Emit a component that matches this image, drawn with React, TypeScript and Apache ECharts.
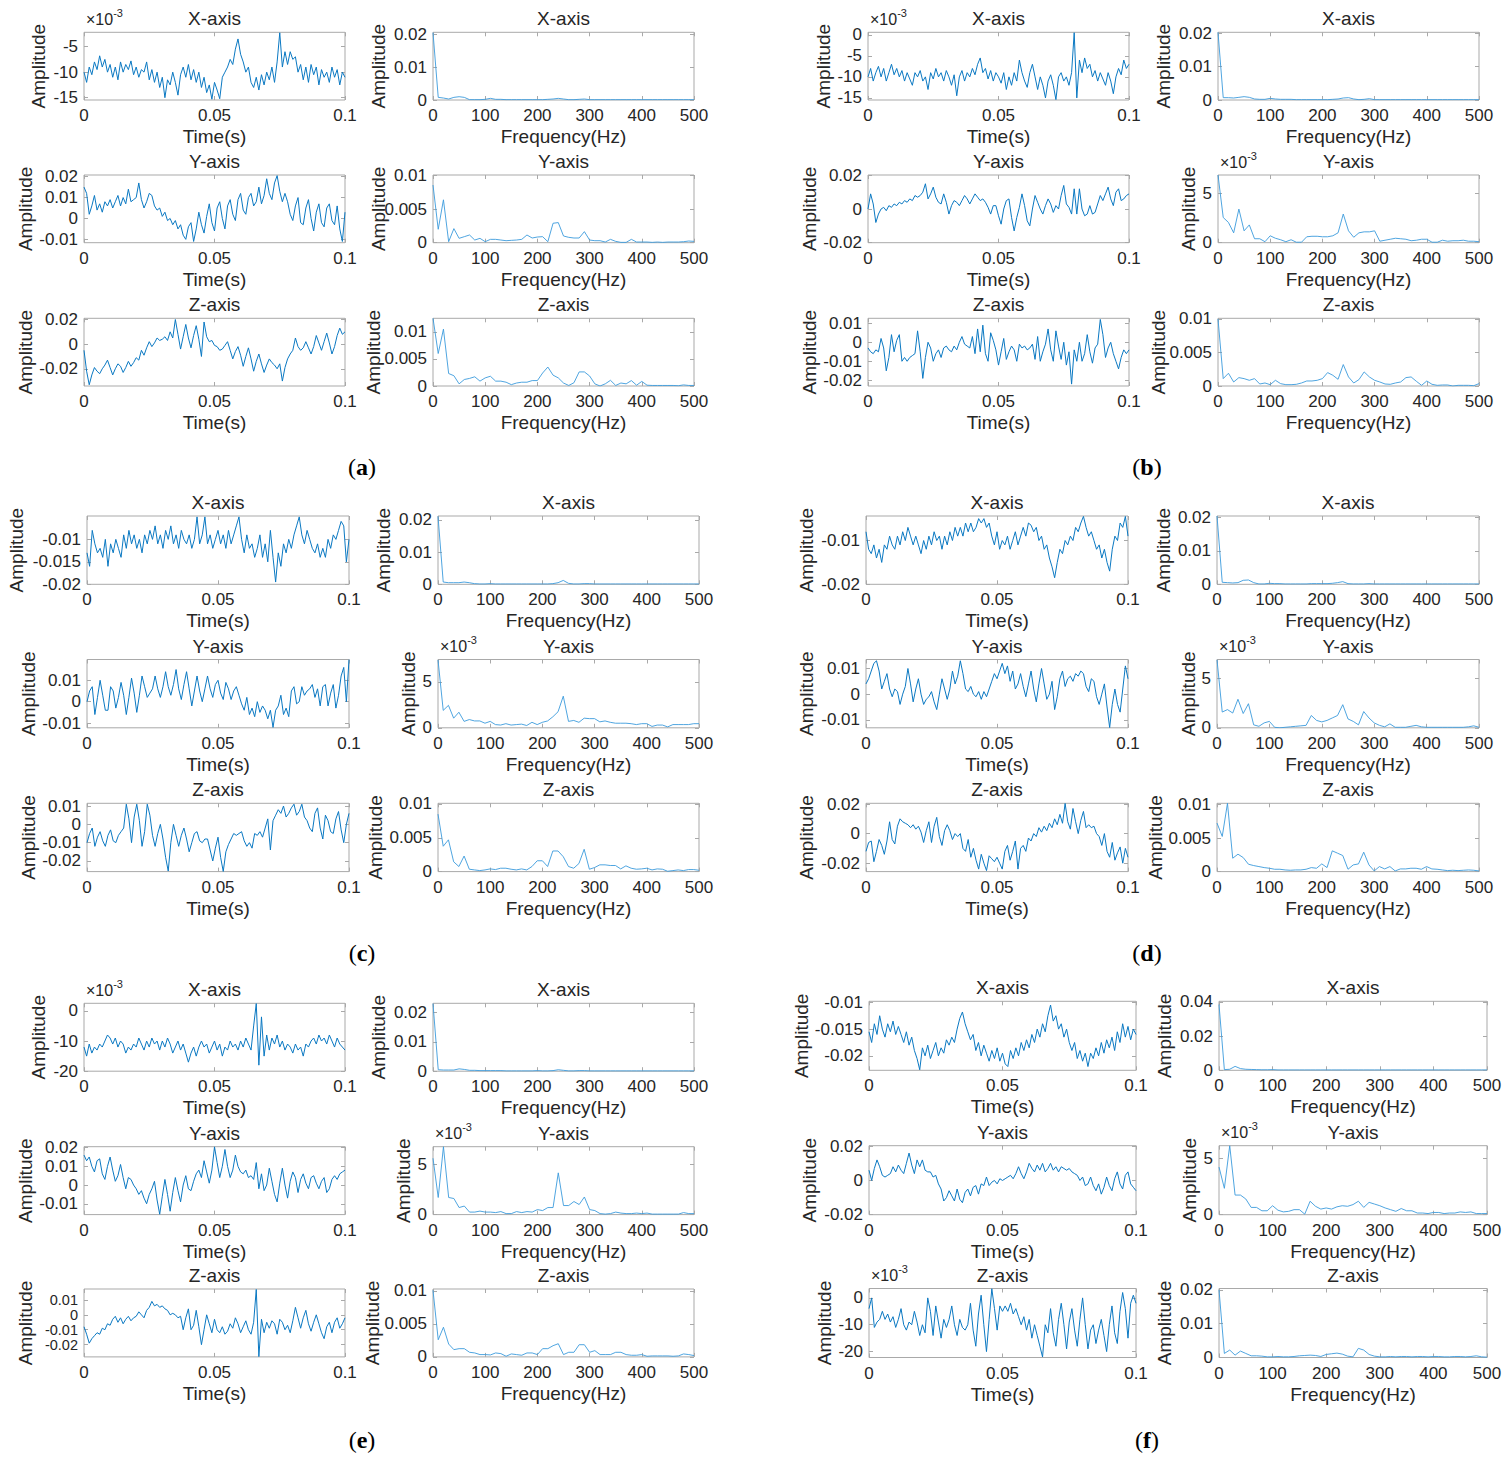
import React, { useEffect, useRef } from 'react';
import * as echarts from 'echarts';

// ---------------- data (all amplitudes in units of 1e-3) ----------------
// sampling grids
const TIME_STEP_S = 0.001; // one sample per ms, 0 .. 0.1 s
const FREQ_STEP_HZ = 10; // one bin per 10 Hz, 0 .. 500 Hz
const MILLI = 0.001;

const timeTicks = [0, 0.05, 0.1];
const freqTicks = [0, 100, 200, 300, 400, 500];
const rowTitles = ['X-axis', 'Y-axis', 'Z-axis'];
const panelLetters = ['a', 'b', 'c', 'd', 'e', 'f'];

// (a)
const aTimeX = [
  -10, -12, -9, -10.5, -8, -9.5, -6.8, -9, -7.5, -10,
  -8.5, -11, -9, -11.5, -8, -10, -8.5, -9.5, -7.8, -10.5,
  -9, -11, -9.5, -10, -8, -11.5, -9.5, -12, -10, -13,
  -11, -15, -11.5, -12.5, -10, -12, -14.5, -10.5, -9, -11,
  -8.5, -11.5, -9.5, -12, -10, -13, -11, -14, -12.5, -15.3,
  -12, -13.5, -15.2, -11, -10, -9, -7.5, -8.5, -5.5, -3.5,
  -6.5, -8, -10, -9, -12, -13, -11, -13.5, -10.5, -12.5,
  -10, -11.5, -9, -12, -8, -2.3, -9, -6, -8.5, -6,
  -7.5, -7, -10, -8.5, -11.5, -9, -12, -8.5, -10.5, -9,
  -12.5, -9.5, -11, -10, -12, -9, -11, -9.5, -12.5, -10,
  -11,
];
const aTimeY = [
  15, 12, 2, 6, 11, 4, 7, 3, 8, 6,
  9, 5, 8, 11, 6, 10, 7, 14, 8, 9,
  10, 17, 9, 5, 8, 12, 11, 6, 4, 5,
  1, 3, -1, 0, -3, -1, -5, -3, -8, -10,
  -4, -2, -11, -5, 3, -3, -7, 1, 7, -2,
  -6, 5, 8, 0, -5, 6, 9, 2, -1, 9,
  12, 4, 2, 10, 12, 6, 8, 15, 7, 11,
  19, 12, 9, 17, 20.5, 13, 8, 12, 8, 2,
  -1, 6, 10, -2, -3, 5, 9, 0, -6, 3,
  7, -2, -4, 5, 7, -1, -3, 6, -5, -11,
  3,
];
const aTimeZ = [
  -5, -22, -33, -25, -19, -22, -24, -20, -17, -13,
  -19, -25, -20, -16, -18, -23, -19, -14, -18, -15,
  -11, -13, -5, -9, -3, 2, -2, 1, 5, 3,
  4, 6, 3, 10, 5, 20, 8, -4, 6, 16,
  5, -3, 7, 15, 4, -10, 18, 6, 2, 3,
  -1, -2, -5, -4, -1, 2, -5, -12, -6, -2,
  -9, -18, -10, -3, -12, -22, -14, -8, -16, -23,
  -17, -12, -15, -17, -20, -16, -30, -19, -12, -8,
  -5, 5, -2, -5, -3, 2, -3, -8, -2, 7,
  1, -5, 2, 9, 1, -8, -2, 7, 13, 8,
  10,
];
const aFreqX = [
  20.5, 0.8, 0.6, 0.3, 0.8, 1.0, 0.8, 0.1, 0.1, 0.1,
  0.2, 0.5, 0.2, 0.2, 0.1, 0.1, 0.1, 0.1, 0.1, 0.1,
  0.1, 0.1, 0.2, 0.3, 0.5, 0.3, 0.1, 0.1, 0.2, 0.3,
  0.1, 0.1, 0.1, 0.1, 0.1, 0.1, 0.1, 0.1, 0.1, 0.1,
  0.1, 0.1, 0.1, 0.1, 0.1, 0.1, 0.1, 0.1, 0.1, 0.1,
  0.1,
];
const aFreqY = [
  8.6, 2.0, 6.4, 0.15, 2.1, 0.65, 0.9, 1.15, 0.4, 0.65,
  0.15, 0.5, 0.5, 0.4, 0.3, 0.35, 0.4, 0.5, 1.15, 0.7,
  0.85, 0.9, 0.15, 2.9, 3.0, 1.0, 0.8, 0.7, 0.7, 1.65,
  0.4, 0.3, 0.3, 0.1, 0.5, 0.2, 0.05, 0.05, 0.5, 0.1,
  0.1, 0.1, 0.05, 0.1, 0.05, 0.1, 0.1, 0.1, 0.15, 0.25,
  0.2,
];
const aFreqZ = [
  12.5, 6.0, 10.5, 2.3, 1.9, 0.4, 1.2, 1.4, 1.7, 0.9,
  1.5, 1.8, 0.9, 0.9, 0.7, 0.25, 0.55, 0.7, 0.7, 1.0,
  1.0, 2.4, 3.5, 2.0, 1.5, 0.55, 0.1, 0.6, 2.6, 2.6,
  1.85, 0.4, 0, 0.4, 1.05, 0.1, 0.55, 0.4, 1.0, 0.15,
  0.85, 0.15, 0.1, 0.1, 0.1, 0.1, 0.1, 0.05, 0.2, 0.1,
  0.1,
];

// (b)
const bTimeX = [
  -10, -8, -11, -9, -7.5, -10, -8, -11, -9, -7,
  -9.5, -8, -10, -8.5, -11, -9, -10.5, -12, -9, -10,
  -8.5, -11, -10, -13, -9, -10.5, -8, -10, -9, -11,
  -8.5, -10, -12, -9.5, -14.5, -10, -8.5, -11, -9, -10,
  -8, -9.5, -7, -5.5, -9, -8, -10.5, -8.5, -11, -9,
  -10, -11.5, -9, -13, -10, -12, -9, -11, -6, -9,
  -11, -12.5, -9, -7, -10, -13, -10, -12, -15, -11,
  -9.5, -12, -15.4, -10, -9, -11, -10, -12, -9, 0.5,
  -15, -6, -9, -5.5, -8, -7, -10, -8.5, -11, -9,
  -10.5, -12, -9, -11, -14, -10, -8, -9.5, -6, -8,
  -7,
];
const bTimeY = [
  0, 9, 3, -8, -3, 0, 1, -1, 2, 1,
  3, 2, 4, 3, 5, 4, 6, 5, 8, 7,
  8, 10, 15, 6, 9, 13, 7, 4, 3, 9,
  4, -3, 2, 5, 4, 2, 5, 8, 6, 3,
  6, 9, 7, 5, 6, 4, 1, -3, 2, 2,
  -4, -9, 0, 5, 6, -5, -13, -5, 1, 9,
  2, -7, -10, 0, 8, 4, 0, -3, 2, 6,
  3, -2, 2, 0, 8, 14, 3, 1, -3, 12,
  -3, 12, 0, -4, -3, 2, -3, -2, 3, 8,
  5, 9, 13, 6, 2, 10, 12, 5, 6, 8,
  9,
];
const bTimeZ = [
  -3, -5, -6, -4, -5, 2, -3, -15, -8, 4,
  -5, 1, 4, -10, -8, -10, -8, -7, -6, 6,
  -5, -19, -8, 0, -3, -10, -6, -4, -8, -3,
  -2, -4, -5, -2, -4, 0, 3, -1, -2, -3,
  3, -6, 7, -5, 9, -6, -10, 5, 1, -4,
  -12, -5, 2, -9, -5, -2, -4, -10, -1, -3,
  -2, -4, -3, -1, -9, 3, -10, -5, -1, 7,
  -4, -10, 6, -2, -9, 0, -12, -5, -22, -4,
  -10, 0, -10, -6, 4, -5, -11, -3, -1, 12,
  4, -8, -3, 0, -6, -10, -14, -8, -4, -6,
  -4,
];
const bFreqX = [
  20.3, 0.7, 0.7, 0.6, 0.8, 1.0, 0.8, 0.3, 0.2, 0.2,
  0.5, 0.3, 0.2, 0.2, 0.2, 0.1, 0.1, 0.1, 0.1, 0.1,
  0.1, 0.1, 0.2, 0.3, 0.6, 0.7, 0.3, 0.1, 0.2, 0.4,
  0.1, 0.1, 0.1, 0.1, 0.1, 0.1, 0.1, 0.1, 0.1, 0.1,
  0.1, 0.1, 0.1, 0.1, 0.1, 0.1, 0.1, 0.1, 0.1, 0.1,
  0.1,
];
const bFreqY = [
  6.85, 2.55, 2.05, 1.0, 3.4, 1.2, 1.8, 0.4, 0.4, 0.1,
  0.7, 0.45, 0.3, 0.1, 0.3, 0.05, 0.05, 0.6, 0.65, 0.65,
  0.6, 0.6, 0.7, 1.0, 2.9, 1.2, 0.55, 1.0, 1.1, 1.1,
  1.2, 0.15, 0.25, 0.35, 0.45, 0.4, 0.35, 0.2, 0.25, 0.35,
  0.35, 0.05, 0.05, 0.25, 0.15, 0.2, 0.2, 0.25, 0.15, 0.15,
  0.1,
];
const bFreqZ = [
  10, 1.1, 1.9, 0.6, 1.25, 1.1, 0.85, 1.1, 0.3, 0.45,
  0.2, 0.85, 0.35, 0.2, 0.2, 0.25, 0.45, 0.75, 0.75, 0.85,
  1.1, 2.0, 1.6, 1.0, 3.2, 1.35, 0.45, 0.95, 2.1, 1.35,
  0.85, 0.6, 0.3, 0.25, 0.45, 0.6, 1.25, 1.35, 0.7, 0.1,
  0.75, 0.25, 0.1, 0.15, 0.15, 0, 0.1, 0.1, 0.1, 0.05,
  0.35,
];

// (c)
const cTimeX = [
  -13, -16, -8, -11, -13, -12, -14, -10, -16, -11,
  -13, -10, -12, -14, -9, -12, -8, -11, -9, -12,
  -10, -13, -9, -11, -8, -10, -7, -11, -9, -12,
  -8, -10, -7, -11, -9, -12, -8, -10, -11, -9,
  -12, -10, -5, -11, -9, -5, -11, -9, -12, -10,
  -8, -11, -9, -12, -8, -11, -9, -7, -5, -10,
  -13, -9, -12, -11, -14, -12, -9, -14, -11, -15,
  -8, -14, -19.5, -13, -16, -11, -13, -10, -12, -9,
  -7, -5, -9, -11, -8, -10, -12, -13, -11, -14,
  -12, -14, -10, -12, -9, -10, -8, -6, -7, -15,
  -10,
];
const cTimeY = [
  0, 5, 7, -6, 2, 10, 3, -4, -4, 7,
  5, -3, 2, 9, 3, -6, 2, 11, 4, -5,
  3, 12, 7, 2, 4, 6, 12, 6, 2, 7,
  14, 7, 3, 8, 15, 6, 1, 8, 14, 6,
  -2, 5, 12, 5, 0, 6, 12, 6, 2, 8,
  10, 4, 1, 9, 6, 1, 5, 7, 3, -1,
  -4, 2, -6, -3, -7, 0, -5, -2, -4, -8,
  -4, -12, -4, -2, 3, -6, -3, -7, 5, 7,
  -1, 0, 7, 3, 5, 6, 8, 2, 6, -2,
  7, 8, -2, 4, 8, -3, 3, 12, 16, 0,
  19.6,
];
const cTimeZ = [
  -10, -5, -2, -12, -7, -4, -9, -12, -6, -3,
  -9, -10, -6, -4, -2, 11, 3, -10, 4, 11,
  2, -12, -4, 11, 5, -6, -12, -5, 0, -8,
  -18, -25.5, -10, 0, -6, -12, -6, -2, -8, -15,
  -10, -5, -4, -9, -10, -8, -8, -14, -20, -13,
  -7, -18, -25.7, -15, -11, -8, -5, -6, -5, -4,
  -9, -12, -10, -13, -5, -6, -4, -7, -2, 3,
  -14, 2, 5, 8, 6, 10, 4, 6, 9, 11,
  5, 7, 11, 4, 2, -2, -4, 6, 9, -2,
  -8, 5, 2, -4, -5, 3, 7, -3, -10, 0,
  6,
];
const cFreqX = [
  21.1, 0.7, 0.5, 0.5, 0.5, 0.7, 0.5, 0.2, 0.1, 0.1,
  0.2, 0.1, 0.1, 0.1, 0.1, 0.1, 0.1, 0.1, 0.1, 0.1,
  0.1, 0.1, 0.2, 0.5, 1.2, 0.3, 0.1, 0.1, 0.2, 0.2,
  0.1, 0.1, 0.1, 0.1, 0.1, 0.1, 0.1, 0.1, 0.1, 0.1,
  0.1, 0.1, 0.1, 0.1, 0.1, 0.1, 0.1, 0.1, 0.1, 0.1,
  0.1,
];
const cFreqY = [
  7.4, 1.9, 2.45, 1.05, 1.7, 0.7, 0.9, 0.75, 0.75, 0.5,
  0.7, 0.35, 0.3, 0.45, 0.3, 0.35, 0.4, 0.25, 0.6, 0.35,
  0.6, 0.75, 1.2, 1.75, 3.45, 0.7, 0.8, 0.6, 1.05, 1.0,
  1.0, 0.65, 0.75, 0.6, 0.5, 0.5, 0.5, 0.45, 0.35, 0.45,
  0.45, 0.15, 0.3, 0.3, 0.1, 0.35, 0.35, 0.35, 0.35, 0.45,
  0.45,
];
const cFreqZ = [
  8.5, 3.75, 4.7, 1.45, 0.75, 2.3, 0.35, 0.25, 0.15, 0.25,
  0.4, 0.3, 0.5, 0.5, 0.35, 0.25, 0.4, 0.25, 0.75, 1.6,
  1.6, 0.75, 3.05, 3.05, 2.2, 0.75, 0.5, 1.2, 3.3, 0.35,
  0.6, 1.0, 1.0, 0.9, 0.9, 0.4, 0.85, 0.5, 0.35, 0.4,
  0.5, 0.25, 0.4, 0.35, 0.05, 0.15, 0.25, 0.15, 0.3, 0.3,
  0.2,
];

// (d)
const dTimeX = [
  -8, -12, -13, -11, -14, -12, -15, -11, -12, -9,
  -11, -12, -9, -11, -8, -10, -7, -9, -11, -9,
  -11, -13, -10, -12, -9, -11, -8, -10, -9, -12,
  -9, -11, -8, -10, -7, -9, -7, -9, -6, -8,
  -6, -8, -7, -5, -6, -5, -7, -6, -9, -11,
  -8, -12, -10, -11, -9, -12, -10, -8, -11, -9,
  -7, -9, -6, -6.5, -8, -7, -10, -9, -12, -11,
  -14, -16, -18.5, -15, -12, -13, -10, -11, -9, -10,
  -7, -8, -6, -4.5, -7, -9, -8, -10, -12, -11,
  -14, -12, -15, -17, -12, -9, -10, -6, -7, -4.5,
  -9,
];
const dTimeY = [
  4, 6, 9, 12, 13, 9, 2, 5, 8, 2,
  -1, 2, 1, -4, 0, 3, 10, 4, -3, 2,
  6, 0, -4, -2, -1, 1, -3, -6, 0, 6,
  2, -2, 2, 9, 4, 7, 13, 8, 2, 1,
  3, 0, -1, 1, -2, 1, -1, 2, 5, 8,
  6, 9, 12, 8, 11, 5, 9, 2, 4, 8,
  3, -1, 4, 9, 2, -3, 4, 10, 4, -2,
  0, 5, -6, -1, 6, 9, 3, 6, 7, 5,
  8, 7, 9, 8, 3, 1, 6, 5, -1, -4,
  0, 4, -5, -13, -4, 2, -4, -7, 2, 11,
  6,
];
const dTimeZ = [
  -12, -6, -5, -19, -12, -4, -8, -14, -5, 8,
  -4, -7, 5, 10, 8, 7, 6, 4, 6, 3,
  5, 1, -6, 2, 8, -6, 5, 11, -2, -8,
  2, 6, 2, -4, 0, -2, 0, -10, -12, -4,
  -16, -10, -18, -24, -14, -20, -25, -15, -17, -19,
  -16, -20, -24, -12, -8, -18, -12, -5, -24, -10,
  -8, -12, -3, -5, 0, -2, 4, 1, 5, 2,
  7, 4, 10, 6, 13, 7, 20.4, 8, 3, 17,
  8, 0, 9, 15, 4, 6, 4, 5, 0, -2,
  -8, 0, -12, -16, -6, -18, -13, -9, -20, -10,
  -16,
];
const dFreqX = [
  20.5, 0.6, 0.5, 0.4, 0.5, 1.2, 1.3, 0.5, 0.1, 0.1,
  0.3, 0.2, 0.2, 0.1, 0.1, 0.1, 0.1, 0.1, 0.2, 0.2,
  0.2, 0.2, 0.3, 0.5, 0.8, 0.2, 0.1, 0.1, 0.1, 0.2,
  0.1, 0.1, 0.1, 0.1, 0.1, 0.1, 0.1, 0.1, 0.1, 0.1,
  0.1, 0.1, 0.1, 0.1, 0.1, 0.1, 0.1, 0.1, 0.1, 0.1,
  0.1,
];
const dFreqY = [
  6.9, 1.6, 1.85, 1.5, 2.9, 1.45, 2.45, 0.3, 0.15, 0.5,
  0.65, 0.05, 0, 0.05, 0.1, 0.15, 0.2, 0.25, 1.25, 0.75,
  0.6, 0.75, 1.0, 1.25, 2.35, 0.9, 0.65, 0.3, 1.65, 1.0,
  0.5, 0.25, 0.1, 0.4, 0.05, 0.05, 0.05, 0.15, 0.25, 0.1,
  0.05, 0.05, 0.05, 0.05, 0.05, 0.05, 0.05, 0.05, 0.1, 0.2,
  0.05,
];
const dFreqZ = [
  7.25, 5.25, 10.2, 2.0, 2.6, 2.1, 1.1, 0.9, 0.75, 0.6,
  0.5, 0.35, 0.35, 0.25, 0.2, 0.25, 0.25, 0.35, 0.6, 0.5,
  1.15, 0.6, 3.1, 2.75, 2.4, 0.35, 1.0, 1.15, 2.9, 1.0,
  0.1, 0.75, 0.4, 0.75, 0.1, 0.4, 0.4, 0.5, 0.5, 0.35,
  0.75, 0.4, 0.35, 0.25, 0.15, 0.2, 0.15, 0.2, 0.25, 0.2,
  0.1,
];

// (e)
const eTimeX = [
  -12, -15, -11, -14, -12, -13, -11, -12, -10, -8,
  -9, -11, -9, -12, -10, -11, -14, -12, -13, -11,
  -12, -9, -11, -13, -10, -12, -9, -11, -10, -13,
  -10, -12, -9, -11, -14, -12, -10, -13, -11, -14,
  -17, -14, -12, -15, -12, -10, -12, -11, -14, -12,
  -10, -13, -11, -15, -12, -13, -10, -12, -11, -13,
  -10, -12, -9, -11, -13, -5, 2.4, -18, -2, -15,
  -8, -13, -9, -11, -8, -12, -10, -13, -11, -12,
  -14, -11, -13, -12, -15, -11, -12, -10, -9, -11,
  -8, -10, -9, -11, -8, -10, -12, -9, -11, -12,
  -13,
];
const eTimeY = [
  16, 13, 15, 10, 7, 13, 14, 6, 3, 10,
  15, 8, 2, 5, 11, 4, -2, 4, 3, 0,
  -2, -5, -3, -7, -10, -5, -2, 2, -8, -15.6,
  -6, 3, -5, -14, -4, 4, -3, -9, 0, 5,
  -2, -3, 2, 6, 8, 4, 13, 7, 1, 8,
  20.4, 12, 4, 10, 19, 10, 4, 8, 16, 10,
  7, 6, 8, 4, 5, 3, 12, -2, 6, -3,
  0, 9, 2, -5, -9, 1, 9, 0, -7, 2,
  7, 4, -4, 3, 6, 1, -2, 4, 5, 1,
  -2, 2, 4, -4, -2, 3, 5, 3, 6, 7,
  8,
];
const eTimeZ = [
  -8, -13, -19, -16, -14, -12, -13, -9, -10, -6,
  -7, -3, -1, -5, -2, -6, -3, -1, -4, -2,
  -1, 2, 0, -2, 3, 5, 9, 6, 7, 5,
  6, 4, 3, 0, 1, 0, -2, -1, -10, -2,
  4, -10, -7, 3, -8, -20, -10, 0, -6, -12,
  -3, -10, -12, -8, -13, -11, -6, -9, -2, -6,
  -12, -8, -4, -10, -13, -5, 17, -28, -3, -12,
  -5, -9, -4, -6, -13, -3, -5, -10, -7, -12,
  -4, 5, -2, -9, -2, 3, -6, -11, -5, 0,
  -6, -12, -16, -8, -5, -12, -5, -2, -9, -6,
  -2,
];
const eFreqX = [
  23, 0.5, 0.4, 0.4, 0.4, 0.8, 0.6, 0.3, 0.3, 0.2,
  0.2, 0.2, 0.2, 0.2, 0.1, 0.1, 0.1, 0.1, 0.1, 0.1,
  0.2, 0.1, 0.1, 0.2, 0.5, 0.3, 0.1, 0.1, 0.2, 0.2,
  0.1, 0.1, 0.1, 0.1, 0.1, 0.1, 0.1, 0.1, 0.1, 0.1,
  0.1, 0.1, 0.1, 0.1, 0.1, 0.1, 0.1, 0.1, 0.1, 0.1,
  0.1,
];
const eFreqY = [
  5.6, 1.7, 6.75, 1.7, 1.6, 0.7, 0.85, 0.25, 0.25, 0.35,
  0.25, 0.25, 0.2, 0.3, 0.1, 0.1, 0.3, 0.2, 0.3, 0.25,
  0.5, 0.4, 0.7, 0.7, 4.15, 0.9, 0.9, 1.3, 1.0, 1.75,
  0.5, 0.4, 0.1, 0.05, 0.1, 0.25, 0.15, 0.1, 0.1, 0.15,
  0.1, 0.15, 0.05, 0.05, 0.05, 0.05, 0.05, 0.05, 0.2, 0.1,
  0.1,
];
const eFreqZ = [
  10.1, 2.6, 4.5, 1.95, 1.1, 1.25, 1.25, 0.7, 0.6, 0.35,
  0.35, 0.3, 0.6, 0.5, 0.1, 0.45, 0.35, 0.25, 0.6, 0.6,
  0.35, 1.25, 1.25, 1.7, 2.0, 0.35, 0.7, 0.7, 1.85, 1.85,
  0.7, 0.95, 0.35, 0.35, 0.35, 0.7, 0.7, 0.35, 0.25, 0.25,
  0.35, 0.1, 0.15, 0.15, 0.15, 0.15, 0.1, 0.15, 0.45, 0.35,
  0.2,
];

// (f)
const fTimeX = [
  -15.5, -17.5, -14, -16, -12.5, -15, -16.5, -14, -15.5, -13.5,
  -16, -14.5, -16, -17.5, -15.5, -18, -16.5, -19, -20.5, -22.6,
  -18.5, -20, -18, -20.5, -19, -17.5, -20, -18.5, -19.5, -17,
  -18, -16.5, -17.5, -15, -13, -11.8, -14, -15.5, -17, -16,
  -19, -17.5, -20, -18, -19.5, -21, -19, -20.5, -18.5, -21,
  -19.5, -21.5, -22, -19, -20.5, -18.5, -20, -17.5, -19, -17,
  -18.5, -16, -17.5, -15, -16.5, -14, -15.5, -12.5, -10.5, -13.5,
  -12.5, -15, -14, -16.5, -15, -17.5, -19, -17.5, -20.5, -19,
  -21, -19.5, -22, -19.5, -20.5, -18.5, -20, -17.5, -19.5, -17,
  -18.5, -16.5, -19, -15.5, -17.5, -14, -16.5, -14.5, -17, -15,
  -16,
];
const fTimeY = [
  6, 0, 7, 12, 8, 3, 2, 3, 4, 8,
  5, 9, 6, 4, 10, 16, 9, 4, 12, 8,
  12, 6, 5, 5, 2, 3, -2, -5, -12, -10,
  -6, -9, -12, -5, -11, -13, -7, -5, -9, -4,
  -3, -8, -2, -3, 2, -3, -1, 0, -2, 1,
  0, 1, 2, 3, 1, 4, 8, 4, 1, 5,
  10, 7, 5, 9, 6, 10, 5, 7, 10, 6,
  8, 5, 8, 7, 6, 7, 5, 4, 3, 0,
  2, -3, -2, 2, -3, -6, -2, -8, -4, 2,
  -3, -6, 1, 5, -2, -5, 3, 5, -2, -4,
  -6,
];
const fTimeZ = [
  -4, 0, -11, -9, -8, -5, -8, -6, -9, -7,
  -11, -8, -4, -10, -12, -9, -10, -5, -9, -14,
  -10, -13, 0, -5, -14, -3, -9, -15, -8, -11,
  -8, -3, -10, -14, -8, -11, -12, -10, -2, -12,
  -18, -6, 1, -10, -20, -8, 3.4, -4, -12, -3,
  -5, -3, -5, -2, -6, -4, -7, -10, -7, -12,
  -8, -15, -10, -14, -18, -22, -10, -13, -4, -13,
  -18, -8, -2, -10, -19, -9, -4, -12, -18, -8,
  0, -10, -19, -12, -10, -17, -12, -8, -14, -20,
  -10, -3, -13, -17, -5, 2, -4, -15, -2, 1,
  -2,
];
const fFreqX = [
  38.5, 0.4, 0.6, 2.3, 1.0, 0.6, 0.5, 0.4, 0.3, 0.3,
  0.4, 0.2, 0.2, 0.2, 0.2, 0.2, 0.2, 0.2, 0.2, 0.2,
  0.2, 0.2, 0.2, 0.2, 0.2, 0.2, 0.2, 0.2, 0.2, 0.2,
  0.2, 0.2, 0.2, 0.2, 0.2, 0.2, 0.2, 0.2, 0.2, 0.2,
  0.2, 0.2, 0.2, 0.2, 0.2, 0.2, 0.2, 0.2, 0.2, 0.2,
  0.2,
];
const fFreqY = [
  4.25, 2.35, 6.15, 1.75, 1.75, 1.4, 0.65, 0.65, 0.35, 0.35,
  0.8, 0.4, 0.25, 0.3, 0.45, 0.45, 0.05, 1.2, 0.75, 0.5,
  0.6, 0.5, 0.7, 0.8, 0.75, 0.9, 1.2, 0.65, 1.1, 0.95,
  0.8, 0.6, 0.45, 0.3, 0.55, 0.35, 0.35, 0.15, 0.15, 0.1,
  0.2, 0.2, 0.1, 0.15, 0.15, 0.25, 0.2, 0.25, 0.1, 0.1,
  0.1,
];
const fFreqZ = [
  20, 1.2, 2.2, 0.7, 1.9, 1.2, 0.5, 0.5, 0.4, 0.2,
  0.2, 0.3, 0.2, 0.2, 0.3, 0.5, 0.6, 0.7, 0.6, 0.3,
  0.9, 1.1, 1.3, 1.0, 0.4, 0.2, 2.7, 2.2, 0.9, 0.4,
  0.2, 0.2, 0.3, 0.2, 0.3, 0.3, 0.2, 0.3, 0.3, 0.2,
  0.3, 0.3, 0.2, 0.2, 0.3, 0.3, 0.2, 0.3, 0.5, 0.2,
  0.1,
];

// y-axis ranges and tick labels (milli: axis shown in units of 1e-3 with a ×10^-3 note)
const aTimeAxes = [
  { min: -15.45, max: -2.2, ticks: [-15, -10, -5], milli: true },
  { min: -0.0116, max: 0.0208, ticks: [-0.01, 0, 0.01, 0.02] },
  { min: -0.034, max: 0.021, ticks: [-0.02, 0, 0.02] },
];
const aFreqAxes = [
  { min: 0, max: 0.0206, ticks: [0, 0.01, 0.02] },
  { min: 0, max: 0.0101, ticks: [0, 0.005, 0.01] },
  { min: 0, max: 0.0125, ticks: [0, 0.005, 0.01] },
];
const bTimeAxes = [
  { min: -15.5, max: 0.6, ticks: [-15, -10, -5, 0], milli: true },
  { min: -0.02, max: 0.0202, ticks: [-0.02, 0, 0.02] },
  { min: -0.023, max: 0.0126, ticks: [-0.02, -0.01, 0, 0.01] },
];
const bFreqAxes = [
  { min: 0, max: 0.0203, ticks: [0, 0.01, 0.02] },
  { min: 0, max: 6.85, ticks: [0, 5], milli: true },
  { min: 0, max: 0.0101, ticks: [0, 0.005, 0.01] },
];
const cTimeAxes = [
  { min: -0.02, max: -0.0048, ticks: [-0.02, -0.015, -0.01] },
  { min: -0.0122, max: 0.0197, ticks: [-0.01, 0, 0.01] },
  { min: -0.0258, max: 0.0115, ticks: [-0.02, -0.01, 0, 0.01] },
];
const cFreqAxes = [
  { min: 0, max: 0.0212, ticks: [0, 0.01, 0.02] },
  { min: 0, max: 7.45, ticks: [0, 5], milli: true },
  { min: 0, max: 0.0101, ticks: [0, 0.005, 0.01] },
];
const dTimeAxes = [
  { min: -0.02, max: -0.0044, ticks: [-0.02, -0.01] },
  { min: -0.0131, max: 0.0135, ticks: [-0.01, 0, 0.01] },
  { min: -0.0257, max: 0.0205, ticks: [-0.02, 0, 0.02] },
];
const dFreqAxes = [
  { min: 0, max: 0.0205, ticks: [0, 0.01, 0.02] },
  { min: 0, max: 6.94, ticks: [0, 5], milli: true },
  { min: 0, max: 0.0102, ticks: [0, 0.005, 0.01] },
];
const eTimeAxes = [
  { min: -20, max: 2.5, ticks: [-20, -10, 0], milli: true },
  { min: -0.0158, max: 0.0205, ticks: [-0.01, 0, 0.01, 0.02] },
  { min: -0.0282, max: 0.0173, ticks: [-0.02, -0.01, 0, 0.01] },
];
const eFreqAxes = [
  { min: 0, max: 0.0231, ticks: [0, 0.01, 0.02] },
  { min: 0, max: 6.75, ticks: [0, 5], milli: true },
  { min: 0, max: 0.0103, ticks: [0, 0.005, 0.01] },
];
const fTimeAxes = [
  { min: -0.0227, max: -0.0098, ticks: [-0.02, -0.015, -0.01] },
  { min: -0.02, max: 0.0203, ticks: [-0.02, 0, 0.02] },
  { min: -22.2, max: 3.5, ticks: [-20, -10, 0], milli: true },
];
const fFreqAxes = [
  { min: 0, max: 0.0404, ticks: [0, 0.02, 0.04] },
  { min: 0, max: 6.15, ticks: [0, 5], milli: true },
  { min: 0, max: 0.0204, ticks: [0, 0.01, 0.02] },
];

// ---------------- layout ----------------
const PANELS = [
  {
    time: [aTimeX, aTimeY, aTimeZ], freq: [aFreqX, aFreqY, aFreqZ], tAx: aTimeAxes, fAx: aFreqAxes,
    tL: 84, tW: 261, fL: 433, fW: 261, tops: [32.3, 175, 318.3], h: 67.7,
    tGap: [36, 49.5, 49.5], fGap: [45.5, 45.5, 50.5], lx: 362, ly: 467, tLabelSize: [17, 17, 17],
  },
  {
    time: [bTimeX, bTimeY, bTimeZ], freq: [bFreqX, bFreqY, bFreqZ], tAx: bTimeAxes, fAx: bFreqAxes,
    tL: 868, tW: 261, fL: 1218, fW: 261, tops: [32.3, 175, 318.3], h: 67.7,
    tGap: [35, 48, 48], fGap: [45, 20, 50], lx: 1147, ly: 467, tLabelSize: [17, 17, 17],
  },
  {
    time: [cTimeX, cTimeY, cTimeZ], freq: [cFreqX, cFreqY, cFreqZ], tAx: cTimeAxes, fAx: cFreqAxes,
    tL: 87, tW: 262, fL: 438, fW: 261, tops: [516, 659.5, 803.3], h: 68.3,
    tGap: [61, 47.5, 49], fGap: [45, 20, 53], lx: 362, ly: 953, tLabelSize: [17, 17, 17],
  },
  {
    time: [dTimeX, dTimeY, dTimeZ], freq: [dFreqX, dFreqY, dFreqZ], tAx: dTimeAxes, fAx: dFreqAxes,
    tL: 866, tW: 262, fL: 1217, fW: 262, tops: [516, 659.5, 803.3], h: 68.3,
    tGap: [50, 50, 50], fGap: [44, 19, 52], lx: 1147, ly: 953, tLabelSize: [17, 17, 17],
  },
  {
    time: [eTimeX, eTimeY, eTimeZ], freq: [eFreqX, eFreqY, eFreqZ], tAx: eTimeAxes, fAx: eFreqAxes,
    tL: 84, tW: 261, fL: 433, fW: 261, tops: [1003.3, 1146.7, 1289], h: 67.9,
    tGap: [36, 49.5, 49.5], fGap: [45, 20, 51.5], lx: 362, ly: 1440, tLabelSize: [17, 17, 14.5],
  },
  {
    time: [fTimeX, fTimeY, fTimeZ], freq: [fFreqX, fFreqY, fFreqZ], tAx: fTimeAxes, fAx: fFreqAxes,
    tL: 869, tW: 267, fL: 1219, fW: 268, tops: [1001.3, 1145.7, 1288.5], h: 69,
    tGap: [58, 50, 35], fGap: [45, 20, 45], lx: 1147, ly: 1440, tLabelSize: [17, 17, 17],
  },
];

const FONT = '"Liberation Sans", Arial, Helvetica, sans-serif';
const SERIF = '"Liberation Serif", "Times New Roman", serif';
const TEXT = '#262626';
const BOX = '#a9a9a9';
const LINE_TIME = '#0a78c2';
const LINE_FREQ = '#3b9bdc';

const fmt = (v: number) => String(+(+v).toFixed(5));

function buildOption() {
  const grid: any[] = [];
  const xAxis: any[] = [];
  const yAxis: any[] = [];
  const series: any[] = [];
  const graphic: any[] = [];

  const yLabel = (values: number[], size: number) => ({
    show: true, customValues: values, margin: 6, color: TEXT, fontSize: size, fontFamily: FONT,
    lineHeight: Math.min(size, 14), formatter: fmt, hideOverlap: false, showMinLabel: true, showMaxLabel: true,
  });

  const add = (
    left: number, top: number, width: number, height: number,
    values: number[], ax: any, isTime: boolean, title: string, gap: number, labelSize: number,
  ) => {
    const g = grid.length;
    grid.push({ left, top, width, height, show: true, borderColor: BOX, borderWidth: 1, backgroundColor: '#fff' });
    const xMax = isTime ? timeTicks[timeTicks.length - 1] : freqTicks[freqTicks.length - 1];
    const xt = isTime ? timeTicks : freqTicks;
    const baseX = {
      type: 'value', gridIndex: g, min: 0, max: xMax,
      axisLine: { show: false, onZero: false }, splitLine: { show: false },
      axisTick: { show: true, inside: true, length: 4, lineStyle: { color: BOX }, customValues: xt },
    };
    xAxis.push({
      ...baseX, position: 'bottom',
      axisLabel: {
        show: true, customValues: xt, margin: 7, color: TEXT, fontSize: 17, fontFamily: FONT,
        formatter: fmt, hideOverlap: false,
      },
      name: isTime ? 'Time(s)' : 'Frequency(Hz)', nameLocation: 'middle', nameGap: 27,
      nameTextStyle: { color: TEXT, fontSize: 19, fontFamily: FONT },
    });
    xAxis.push({
      ...baseX, position: 'top', axisLabel: { show: false },
      name: title, nameLocation: 'middle', nameGap: 4,
      nameTextStyle: { color: TEXT, fontSize: 19, fontFamily: FONT },
    });
    const baseY = {
      type: 'value', gridIndex: g, min: ax.min, max: ax.max, scale: true,
      axisLine: { show: false, onZero: false }, splitLine: { show: false },
      axisTick: { show: true, inside: true, length: 4, lineStyle: { color: BOX }, customValues: ax.ticks },
    };
    // tick labels are split over two stacked left axes so close labels are never dropped
    const evenTicks = ax.ticks.filter((_: number, i: number) => i % 2 === 0);
    const oddTicks = ax.ticks.filter((_: number, i: number) => i % 2 === 1);
    const yBase = yAxis.length;
    yAxis.push({
      ...baseY, position: 'left', axisLabel: yLabel(evenTicks, labelSize),
      name: 'Amplitude', nameLocation: 'middle', nameRotate: 90, nameGap: gap,
      nameTextStyle: { color: TEXT, fontSize: 19, fontFamily: FONT },
    });
    yAxis.push({ ...baseY, position: 'right', axisLabel: { show: false } });
    if (oddTicks.length) {
      yAxis.push({
        ...baseY, position: 'left', offset: 0, axisTick: { show: false }, axisLabel: yLabel(oddTicks, labelSize),
      });
    }

    const step = isTime ? TIME_STEP_S : FREQ_STEP_HZ;
    series.push({
      type: 'line', xAxisIndex: 2 * g, yAxisIndex: yBase,
      data: values.map((v, i) => [i * step, ax.milli ? v : v * MILLI]),
      showSymbol: false, symbol: 'none', silent: true, clip: true,
      lineStyle: { width: isTime ? 1 : 0.9, color: isTime ? LINE_TIME : LINE_FREQ },
    });
    if (ax.milli) {
      graphic.push({
        type: 'text', x: left + 2, y: top - 15, silent: true,
        style: {
          text: '{m|×10}{s|-3}', fill: TEXT, verticalAlign: 'middle', align: 'left',
          rich: {
            m: { fontSize: 16, fontFamily: FONT, fill: TEXT, lineHeight: 20, verticalAlign: 'bottom' },
            s: { fontSize: 11, fontFamily: FONT, fill: TEXT, lineHeight: 11, verticalAlign: 'top' },
          },
        },
      });
    }
  };

  PANELS.forEach((p, pi) => {
    for (let r = 0; r < 3; r++) {
      add(p.tL, p.tops[r], p.tW, p.h, p.time[r], p.tAx[r], true, rowTitles[r], p.tGap[r], p.tLabelSize[r]);
      add(p.fL, p.tops[r], p.fW, p.h, p.freq[r], p.fAx[r], false, rowTitles[r], p.fGap[r], 17);
    }
    graphic.push({
      type: 'text', x: p.lx, y: p.ly, silent: true,
      style: {
        text: `{n|(}{b|${panelLetters[pi]}}{n|)}`, align: 'center', verticalAlign: 'middle', fill: '#000',
        rich: {
          n: { fontSize: 24, fontFamily: SERIF, fill: '#000' },
          b: { fontSize: 24, fontFamily: SERIF, fontWeight: 'bold', fill: '#000' },
        },
      },
    });
  });

  return { animation: false, backgroundColor: '#fff', grid, xAxis, yAxis, series, graphic };
}

export default function App() {
  const ref = useRef<HTMLDivElement>(null);
  useEffect(() => {
    if (!ref.current) return;
    const chart = echarts.init(ref.current, undefined, { renderer: 'svg' });
    chart.setOption(buildOption() as any);
    return () => chart.dispose();
  }, []);
  return (
    <div
      ref={ref}
      style={{ position: 'absolute', left: 0, top: 0, width: 1510, height: 1464, background: '#fff' }}
    />
  );
}
